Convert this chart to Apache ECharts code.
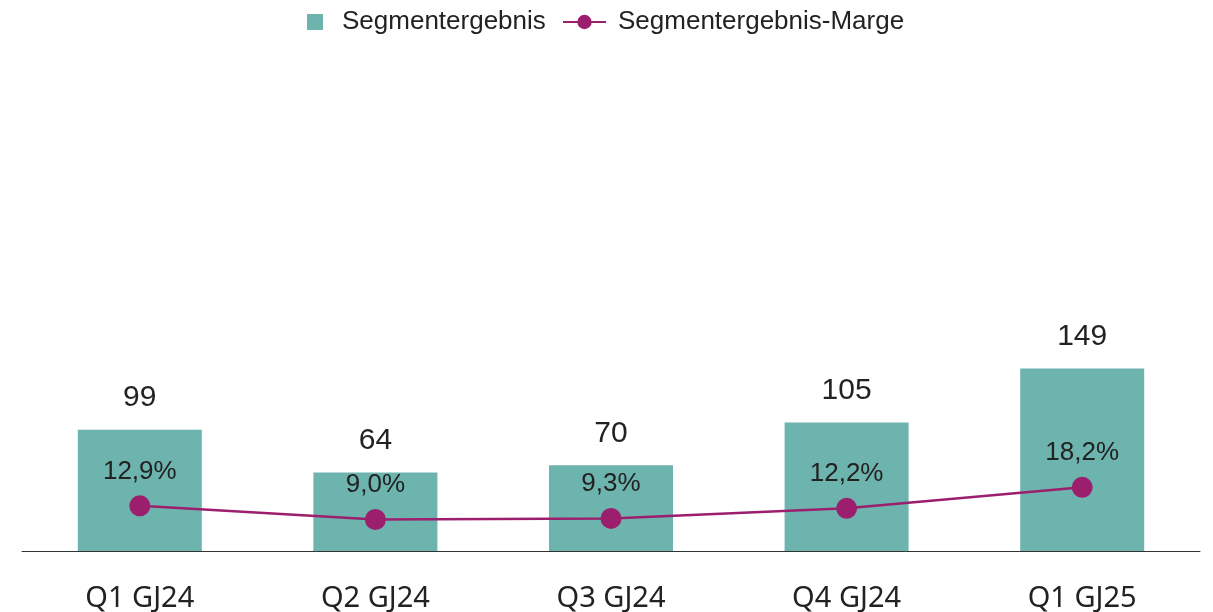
<!DOCTYPE html>
<html>
<head>
<meta charset="utf-8">
<script src="https://cdn.jsdelivr.net/npm/echarts@6/dist/echarts.min.js"></script>
<style>html,body{margin:0;padding:0;background:#fff;}#c{width:1213px;height:612px;}</style>
</head>
<body>
<div id="c"></div>
<script>
var categories = ['Q1 GJ24', 'Q2 GJ24', 'Q3 GJ24', 'Q4 GJ24', 'Q1 GJ25'];
var segmentergebnis = [99, 64, 70, 105, 149];
var marge = [12.9, 9.0, 9.3, 12.2, 18.2];

var TEAL = '#6db3ae';
var MAG = '#9c1f6e';
var TXT = '#222222';
var SANS = '"Liberation Sans", Arial, sans-serif';
var chart = echarts.init(document.getElementById('c'));
chart.setOption({
  animation: false,
  backgroundColor: '#ffffff',
  legend: [
    {
      data: [{name: 'Segmentergebnis', icon: 'rect'}],
      left: 302, top: 4,
      itemWidth: 16, itemHeight: 16,
      textStyle: {fontFamily: SANS, fontSize: 26, color: TXT, padding: [0, 0, 0, 14]}
    },
    {
      data: ['Segmentergebnis-Marge'],
      left: 557, top: 4,
      itemWidth: 43, itemHeight: 18,
      textStyle: {fontFamily: SANS, fontSize: 26, color: TXT, padding: [0, 0, 0, 7]}
    }
  ],
  grid: {left: 22, right: 13, top: 61, bottom: 61, containLabel: false, outerBoundsMode: 'none'},
  xAxis: {
    type: 'category',
    data: categories,
    axisLine: {lineStyle: {color: '#333', width: 1}},
    axisTick: {show: false},
    axisLabel: {fontFamily: 'Noto Sans', fontSize: 29, color: TXT, margin: 33}
  },
  yAxis: [
    {type: 'value', min: 0, max: 400, show: false, splitLine: {show: false}},
    {type: 'value', min: 0, max: 140, show: false, splitLine: {show: false}}
  ],
  series: [
    {
      name: 'Segmentergebnis',
      type: 'bar',
      data: segmentergebnis,
      barWidth: 124,
      itemStyle: {color: TEAL},
      label: {show: true, position: 'top', distance: 17, fontFamily: SANS, fontSize: 30, color: TXT}
    },
    {
      name: 'Segmentergebnis-Marge',
      type: 'line',
      yAxisIndex: 1,
      data: marge,
      symbol: 'circle',
      symbolSize: 21,
      itemStyle: {color: MAG},
      lineStyle: {color: MAG, width: 2.5},
      label: {
        show: true, position: 'top', distance: 11,
        fontFamily: SANS, fontSize: 26, color: TXT,
        formatter: function (p) { return p.value.toFixed(1).replace('.', ',') + '%'; }
      },
      z: 5
    }
  ]
});
</script>
</body>
</html>
